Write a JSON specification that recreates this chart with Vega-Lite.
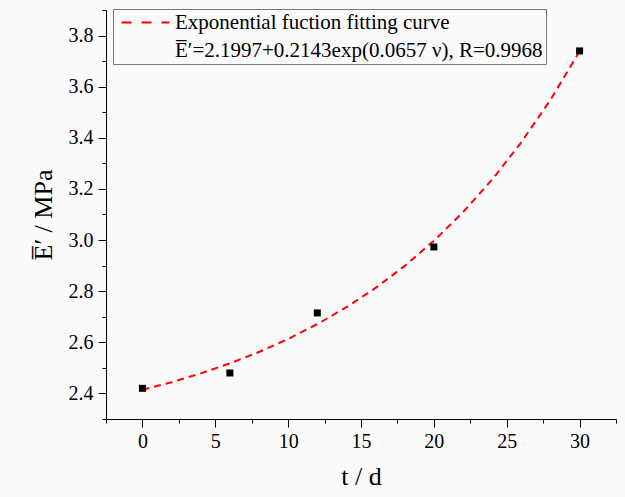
{
  "$schema": "https://vega.github.io/schema/vega-lite/v6.json",
  "width": 510,
  "height": 409,
  "autosize": "none",
  "padding": {"left": 106, "top": 10, "right": 9, "bottom": 78},
  "background": "#fafafa",
  "config": {
    "view": {"stroke": null},
    "font": "Liberation Serif, Times New Roman, serif",
    "axis": {
      "grid": false,
      "domainColor": "#000000",
      "tickColor": "#000000",
      "labelColor": "#000000",
      "titleColor": "#000000",
      "labelFont": "Liberation Serif, Times New Roman, serif",
      "titleFont": "Liberation Serif, Times New Roman, serif",
      "labelFontSize": 20,
      "titleFontSize": 26,
      "titleFontWeight": "normal",
      "tickSize": 8,
      "domainWidth": 1,
      "tickWidth": 1
    },
    "legend": {
      "labelFont": "Liberation Serif, Times New Roman, serif"
    }
  },
  "datasets": {
    "measured": [
      {"t": 0, "E": 2.42},
      {"t": 6, "E": 2.48},
      {"t": 12, "E": 2.715},
      {"t": 20, "E": 2.973},
      {"t": 30, "E": 3.74}
    ],
    "fitted": [
      {"t": 0, "E": 2.414},
      {"t": 2, "E": 2.4441},
      {"t": 4, "E": 2.4784},
      {"t": 6, "E": 2.5176},
      {"t": 8, "E": 2.5622},
      {"t": 10, "E": 2.6131},
      {"t": 12, "E": 2.6712},
      {"t": 14, "E": 2.7373},
      {"t": 16, "E": 2.8128},
      {"t": 18, "E": 2.8989},
      {"t": 20, "E": 2.9971},
      {"t": 22, "E": 3.1091},
      {"t": 24, "E": 3.2368},
      {"t": 26, "E": 3.3824},
      {"t": 28, "E": 3.5485},
      {"t": 30, "E": 3.7379}
    ]
  },
  "layer": [
    {
      "data": {"name": "fitted"},
      "mark": {"type": "line", "strokeDash": [7, 5], "strokeWidth": 2},
      "encoding": {
        "x": {
          "field": "t", "type": "quantitative",
          "scale": {"domain": [-2.5, 32.5], "nice": false, "zero": false},
          "axis": {"orient": "bottom", "values": [0, 5, 10, 15, 20, 25, 30], "title": "t / d", "labelFont": "Liberation Serif, Times New Roman, serif", "titleFont": "Liberation Serif, Times New Roman, serif", "labelFontSize": 20, "titleFontSize": 26, "labelPadding": 4, "titlePadding": 12, "labelFlush": false}
        },
        "y": {
          "field": "E", "type": "quantitative",
          "scale": {"domain": [2.3, 3.9], "nice": false, "zero": false},
          "axis": {"orient": "left", "values": [2.4, 2.6, 2.8, 3.0, 3.2, 3.4, 3.6, 3.8], "format": ".1f", "title": "E̅′ / MPa", "labelFont": "Liberation Serif, Times New Roman, serif", "titleFont": "Liberation Serif, Times New Roman, serif", "labelFontSize": 20, "titleFontSize": 26, "labelPadding": 5, "titlePadding": 12, "labelFlush": false}
        },
        "stroke": {
          "datum": "Exponential fuction fitting curve",
          "type": "nominal",
          "scale": {"domain": ["Exponential fuction fitting curve", "E̅′=2.1997+0.2143exp(0.0657 ν), R=0.9968"], "range": ["#ff0000", "transparent"]},
          "legend": {
            "orient": "none",
            "legendX": 7,
            "legendY": -1,
            "title": null,
            "symbolType": "M-1,0H8.6",
            "symbolSize": 100,
            "symbolStrokeWidth": 2,
            "symbolDash": [10, 10],
            "labelFont": "Liberation Serif, Times New Roman, serif",
            "labelFontSize": 21,
            "labelColor": "#000000",
            "labelOffset": 38,
            "labelLimit": 600,
            "strokeColor": "#777777",
            "fillColor": "#fafafa",
            "padding": 3,
            "rowPadding": 6
          }
        }
      }
    },
    {
      "data": {"name": "measured"},
      "mark": {"type": "square", "size": 49, "color": "#000000", "opacity": 1},
      "encoding": {
        "x": {"field": "t", "type": "quantitative", "axis": null},
        "y": {"field": "E", "type": "quantitative", "axis": null}
      }
    },
    {
      "data": {"name": "measured"},
      "mark": {"type": "point", "opacity": 0},
      "encoding": {
        "x": {"field": "t", "type": "quantitative", "axis": {"orient": "bottom", "values": [-2.5, 2.5, 7.5, 12.5, 17.5, 22.5, 27.5, 32.5], "labels": false, "domain": false, "tickSize": 4, "title": null}},
        "y": {"field": "E", "type": "quantitative", "axis": {"orient": "left", "values": [2.3, 2.5, 2.7, 2.9, 3.1, 3.3, 3.5, 3.7, 3.9], "labels": false, "domain": false, "tickSize": 4, "title": null}}
      }
    }
  ],
  "resolve": {"axis": {"x": "independent", "y": "independent"}}
}
